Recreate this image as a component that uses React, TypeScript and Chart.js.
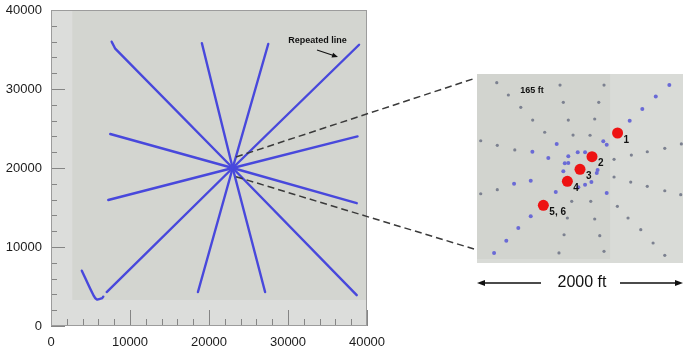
import React, { useEffect, useRef } from "react";
import { Chart, registerables } from "chart.js";

Chart.register(...registerables);

// ---------- main plot data ----------
const X_TICKS = [0, 10000, 20000, 30000, 40000];
const Y_TICKS = [0, 10000, 20000, 30000, 40000];
const MINOR_STEP = 2000;

const CENTER_X = 23000;
const CENTER_Y = 20000;
const SPOKE_END_X = [7680, 19100, 27500, 39000, 38800, 38700, 38700, 27100, 18600, 7050, 7250, 7500];
const SPOKE_END_Y = [35990, 35800, 35700, 35600, 24000, 15550, 3900, 4300, 4300, 4300, 15950, 24300];
const NW_BEND_X = 8100;
const NW_BEND_Y = 35150;
const HOOK_X = [3900, 5360, 5780, 6420, 6620];
const HOOK_Y = [7000, 3920, 3380, 3500, 3710];
const GRID_MIN_X = 2700;
const GRID_MIN_Y = 3300;

const NOTE_TEXT = "Repeated line";
const NOTE_X = 33730;
const NOTE_Y = 36080;
const NOTE_ARROW_X = [33670, 36330];
const NOTE_ARROW_Y = [34940, 34050];
const ZOOM_FROM_X = [23420, 23420];
const ZOOM_FROM_Y = [21390, 18900];

// ---------- inset data (ft, relative to spoke centre) ----------
const GRAY_X = [
  -814, -702, -582, -467, -351,
  -203, -171, -123, -77,
  222, 171, 132, 87,
  319, 486, 640, 809, 969,
  -969, -809, -640,
  -969, -809,
  -90, -132, -164, -213,
  94, 132, 181, 222,
  351, 454, 577, 696, 809,
  319, 480, 640, 809, 963,
];
const GRAY_Y = [
  834, 715, 596, 473, 355,
  811, 644, 473, 328,
  811, 644, 483, 326,
  94, 135, 167, 200, 242,
  273, 229, 184,
  -239, -200,
  -312, -473, -635, -811,
  -312, -483, -644, -795,
  -360, -473, -586, -715, -834,
  -77, -126, -167, -210, -248,
];
const BLUE_X = [
  853, 722, 592, 470, 215, 248,
  -244, -486, -606, -722, -840,
  -235, -470, -316, -157,
  -647, -486,
  39, -32, -123, -171, -123, 152, 39, 248, -26, 100, 160,
];
const BLUE_Y = [
  811, 700, 580, 467, 268, 235,
  -222, -457, -570, -693, -811,
  242, 167, 106, 55,
  -142, -113,
  161, 161, 123, -22, 58, -39, -152, -232, -177, -126, -10,
];
const RED_X = [353, 106, -10, -132, -364];
const RED_Y = [348, 119, -3, -119, -351];
const RED_LABELS = ["1", "2", "3", "4", "5, 6"];
const SPACING_TEXT = "165 ft";
const SPACING_X = -473;
const SPACING_Y = 763;
const INSET_X_RANGE = [-1005, 985];
const INSET_Y_RANGE = [-908, 918];
const INSET_SHADE_X = 280;
const SCALE_TEXT = "2000 ft";

const FONT = "'Liberation Sans', Arial, sans-serif";
const LINE_COLOR = "#4848dc";

function arrowHead(ctx: CanvasRenderingContext2D, x1: number, y1: number, x2: number, y2: number, len: number, w: number) {
  const a = Math.atan2(y2 - y1, x2 - x1);
  const bx = x2 - len * Math.cos(a);
  const by = y2 - len * Math.sin(a);
  ctx.beginPath();
  ctx.moveTo(x2, y2);
  ctx.lineTo(bx + (w / 2) * Math.sin(a), by - (w / 2) * Math.cos(a));
  ctx.lineTo(bx - (w / 2) * Math.sin(a), by + (w / 2) * Math.cos(a));
  ctx.closePath();
  ctx.fill();
}

const mainPlugin = {
  id: "mainDecor",
  beforeDatasetsDraw(chart: any) {
    const { ctx, chartArea: a, scales } = chart;
    const xs = scales.x;
    const ys = scales.y;
    ctx.save();
    ctx.fillStyle = "#dcdddb";
    ctx.fillRect(a.left, a.top, a.right - a.left, a.bottom - a.top);
    const gx = xs.getPixelForValue(GRID_MIN_X);
    const gy = ys.getPixelForValue(GRID_MIN_Y);
    ctx.fillStyle = "#d3d5d0";
    ctx.fillRect(gx, a.top, a.right - gx, gy - a.top);
    // inward tick marks
    ctx.strokeStyle = "#858585";
    ctx.lineWidth = 1;
    ctx.beginPath();
    for (let v = 0; v <= 40000; v += MINOR_STEP) {
      const major = Y_TICKS.includes(v);
      const y = Math.round(ys.getPixelForValue(v)) + 0.5;
      ctx.moveTo(a.left, y);
      ctx.lineTo(a.left + (major ? 14 : 6), y);
      const x = Math.round(xs.getPixelForValue(v)) + 0.5;
      ctx.moveTo(x, a.bottom);
      ctx.lineTo(x, a.bottom - (major ? 16 : 7));
    }
    ctx.stroke();
    ctx.strokeStyle = "#9c9c9c";
    ctx.strokeRect(a.left + 0.5, a.top + 0.5, a.right - a.left - 1, a.bottom - a.top - 1);
    ctx.restore();
  },
  afterDraw(chart: any) {
    const { ctx, scales } = chart;
    const xs = scales.x;
    const ys = scales.y;
    ctx.save();
    // annotation
    ctx.fillStyle = "#111";
    ctx.font = `bold 9px ${FONT}`;
    ctx.textAlign = "center";
    ctx.textBaseline = "middle";
    ctx.fillText(NOTE_TEXT, xs.getPixelForValue(NOTE_X), ys.getPixelForValue(NOTE_Y));
    const ax1 = xs.getPixelForValue(NOTE_ARROW_X[0]);
    const ay1 = ys.getPixelForValue(NOTE_ARROW_Y[0]);
    const ax2 = xs.getPixelForValue(NOTE_ARROW_X[1]);
    const ay2 = ys.getPixelForValue(NOTE_ARROW_Y[1]);
    ctx.strokeStyle = "#111";
    ctx.lineWidth = 1.2;
    ctx.beginPath();
    ctx.moveTo(ax1, ay1);
    ctx.lineTo(ax2 - 3, ay2 - 1);
    ctx.stroke();
    arrowHead(ctx, ax1, ay1, ax2, ay2, 6, 5);
    // dashed zoom lines
    const ends = [[476, 78], [474, 249]];
    ctx.strokeStyle = "#3a3a3a";
    ctx.lineWidth = 1.5;
    ctx.setLineDash([7, 4]);
    for (let i = 0; i < 2; i++) {
      ctx.beginPath();
      ctx.moveTo(xs.getPixelForValue(ZOOM_FROM_X[i]), ys.getPixelForValue(ZOOM_FROM_Y[i]));
      ctx.lineTo(ends[i][0], ends[i][1]);
      ctx.stroke();
    }
    ctx.setLineDash([]);
    // 2000 ft scale arrow
    const yArr = 283;
    ctx.strokeStyle = "#111";
    ctx.fillStyle = "#111";
    ctx.lineWidth = 1.3;
    ctx.beginPath();
    ctx.moveTo(541, yArr);
    ctx.lineTo(482, yArr);
    ctx.moveTo(620, yArr);
    ctx.lineTo(677, yArr);
    ctx.stroke();
    arrowHead(ctx, 541, yArr, 477, yArr, 8, 6);
    arrowHead(ctx, 620, yArr, 683, yArr, 8, 6);
    ctx.font = `16px ${FONT}`;
    ctx.textAlign = "center";
    ctx.textBaseline = "middle";
    ctx.fillText(SCALE_TEXT, 582, yArr);
    ctx.restore();
  },
};

const insetPlugin = {
  id: "insetDecor",
  beforeDatasetsDraw(chart: any) {
    const { ctx, chartArea: a, scales } = chart;
    ctx.save();
    ctx.fillStyle = "#d9dbd7";
    ctx.fillRect(a.left, a.top, a.right - a.left, a.bottom - a.top);
    const sx = scales.x.getPixelForValue(INSET_SHADE_X);
    ctx.fillStyle = "#d2d4cf";
    ctx.fillRect(a.left, a.top, sx - a.left, a.bottom - a.top - 4);
    ctx.restore();
  },
  afterDraw(chart: any) {
    const { ctx, scales } = chart;
    const xs = scales.x;
    const ys = scales.y;
    ctx.save();
    ctx.fillStyle = "#111";
    ctx.font = `bold 9px ${FONT}`;
    ctx.textAlign = "center";
    ctx.textBaseline = "middle";
    ctx.fillText(SPACING_TEXT, xs.getPixelForValue(SPACING_X), ys.getPixelForValue(SPACING_Y));
    ctx.font = `bold 10px ${FONT}`;
    ctx.textAlign = "left";
    RED_LABELS.forEach((t, i) => {
      ctx.fillText(t, xs.getPixelForValue(RED_X[i]) + 6, ys.getPixelForValue(RED_Y[i]) + 7);
    });
    ctx.restore();
  },
};

export default function App() {
  const mainRef = useRef<HTMLCanvasElement>(null);
  const insetRef = useRef<HTMLCanvasElement>(null);

  useEffect(() => {
    const lineBase = {
      showLine: true,
      borderColor: LINE_COLOR,
      borderWidth: 2.4,
      borderCapStyle: "round",
      borderJoinStyle: "round",
      pointRadius: 0,
      fill: false,
    };
    const spokes = SPOKE_END_X.map((ex, i) => ({
      ...lineBase,
      data:
        i === 0
          ? [
              { x: CENTER_X, y: CENTER_Y },
              { x: NW_BEND_X, y: NW_BEND_Y },
              { x: ex, y: SPOKE_END_Y[i] },
            ]
          : [
              { x: CENTER_X, y: CENTER_Y },
              { x: ex, y: SPOKE_END_Y[i] },
            ],
    }));
    const hook = {
      ...lineBase,
      tension: 0.35,
      data: HOOK_X.map((x, i) => ({ x, y: HOOK_Y[i] })),
    };

    const tickFont = { family: FONT, size: 13 };
    const plain = (v: any) => String(v);
    const main = new Chart(mainRef.current as HTMLCanvasElement, {
      type: "scatter",
      data: { datasets: [...spokes, hook] as any },
      options: {
        responsive: false,
        animation: false,
        devicePixelRatio: 1,
        layout: { padding: { left: 6, right: 316, top: 10, bottom: 0 }, autoPadding: false },
        plugins: { legend: { display: false }, tooltip: { enabled: false } },
        scales: {
          x: {
            type: "linear",
            min: 0,
            max: 40000,
            grid: { display: false, drawTicks: false },
            border: { display: false },
            ticks: { font: tickFont, color: "#1c1c1c", padding: 9, maxRotation: 0, autoSkip: false, callback: plain },
            afterBuildTicks: (s: any) => {
              s.ticks = X_TICKS.map((v) => ({ value: v }));
            },
            afterFit: (s: any) => {
              s.height = 27;
              s.paddingLeft = 0;
              s.paddingRight = 0;
            },
          },
          y: {
            type: "linear",
            min: 0,
            max: 40000,
            grid: { display: false, drawTicks: false },
            border: { display: false },
            ticks: { font: tickFont, color: "#1c1c1c", padding: 9, autoSkip: false, callback: plain },
            afterBuildTicks: (s: any) => {
              s.ticks = Y_TICKS.map((v) => ({ value: v }));
            },
            afterFit: (s: any) => {
              s.width = 45;
              s.paddingTop = 0;
              s.paddingBottom = 0;
            },
          },
        },
      } as any,
      plugins: [mainPlugin],
    });

    const inset = new Chart(insetRef.current as HTMLCanvasElement, {
      type: "scatter",
      data: {
        datasets: [
          {
            data: GRAY_X.map((x, i) => ({ x, y: GRAY_Y[i] })),
            pointRadius: 1.6,
            pointBackgroundColor: "#7c8190",
            pointBorderWidth: 0,
          },
          {
            data: BLUE_X.map((x, i) => ({ x, y: BLUE_Y[i] })),
            pointRadius: 2,
            pointBackgroundColor: "#6a6ad6",
            pointBorderWidth: 0,
          },
          {
            data: RED_X.map((x, i) => ({ x, y: RED_Y[i] })),
            pointRadius: 5.5,
            pointBackgroundColor: "#ee1212",
            pointBorderWidth: 0,
          },
          {
            data: RED_X.map((x, i) => ({ x, y: RED_Y[i] })),
            pointRadius: 1.6,
            pointBackgroundColor: "#5050c8",
            pointBorderWidth: 0,
          },
        ] as any,
      },
      options: {
        responsive: false,
        animation: false,
        devicePixelRatio: 1,
        layout: { padding: 0, autoPadding: false },
        plugins: { legend: { display: false }, tooltip: { enabled: false } },
        scales: {
          x: { type: "linear", display: false, min: INSET_X_RANGE[0], max: INSET_X_RANGE[1] },
          y: { type: "linear", display: false, min: INSET_Y_RANGE[0], max: INSET_Y_RANGE[1] },
        },
      } as any,
      plugins: [insetPlugin],
    });

    return () => {
      main.destroy();
      inset.destroy();
    };
  }, []);

  return (
    <div style={{ position: "absolute", left: 0, top: 0, width: 683, height: 353, background: "#fff", overflow: "hidden" }}>
      <canvas ref={mainRef} width={683} height={353} style={{ position: "absolute", left: 0, top: 0, width: 683, height: 353 }} />
      <canvas ref={insetRef} width={206} height={189} style={{ position: "absolute", left: 477, top: 74, width: 206, height: 189 }} />
    </div>
  );
}
